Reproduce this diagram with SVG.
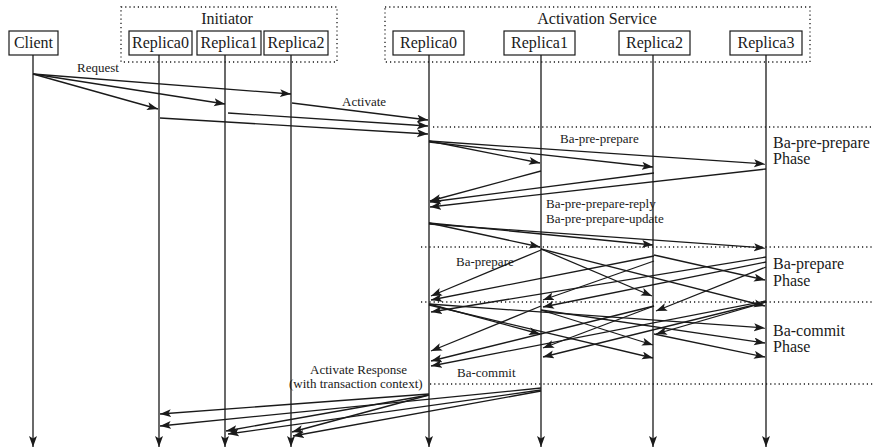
<svg xmlns="http://www.w3.org/2000/svg" width="874" height="448" viewBox="0 0 874 448">
<style>
.bg{fill:#fff}
.box{fill:#fff;stroke:#1a1a1a;stroke-width:1.2}
.grp{fill:none;stroke:#1a1a1a;stroke-width:1.3;stroke-dasharray:1.2 3}
.sep{stroke:#1a1a1a;stroke-width:1.3;stroke-dasharray:1.2 3}
.life{stroke:#1a1a1a;stroke-width:1.3;marker-end:url(#ah)}
.msg{stroke:#1a1a1a;stroke-width:1.3;fill:none;marker-end:url(#ah)}
text{font-family:"Liberation Serif","Times New Roman",serif;fill:#1a1a1a}
.nl{font-size:16px;text-anchor:middle}
.ph{font-size:16px}
.ml{font-size:13px}
</style>
<defs>
<marker id="ah" markerUnits="userSpaceOnUse" markerWidth="12" markerHeight="9" refX="11" refY="4" orient="auto">
<path d="M0,0 L11,4 L0,8 L2.5,4 z" fill="#1a1a1a"/>
</marker>
</defs>
<rect class="bg" x="0" y="0" width="874" height="448"/>

<g id="initiator">
<rect class="grp" x="121" y="7" width="216" height="55"/>
<text class="nl" x="227" y="24">Initiator</text>
</g>
<g id="activation-service">
<rect class="grp" x="385" y="7" width="425" height="55"/>
<text class="nl" x="597" y="24">Activation Service</text>
</g>

<g id="client">
<line class="life" x1="33" y1="55" x2="33" y2="447"/>
<rect class="box" x="9" y="31" width="49" height="24"/>
<text class="nl" x="33.5" y="48">Client</text>
</g>
<g id="init-replica0">
<line class="life" x1="159" y1="55" x2="159" y2="447"/>
<rect class="box" x="129" y="31" width="63" height="24"/>
<text class="nl" x="160.5" y="48">Replica0</text>
</g>
<g id="init-replica1">
<line class="life" x1="225" y1="55" x2="225" y2="447"/>
<rect class="box" x="197" y="31" width="64" height="24"/>
<text class="nl" x="229" y="48">Replica1</text>
</g>
<g id="init-replica2">
<line class="life" x1="291" y1="55" x2="291" y2="447"/>
<rect class="box" x="264" y="31" width="64" height="24"/>
<text class="nl" x="296" y="48">Replica2</text>
</g>
<g id="act-replica0">
<line class="life" x1="429" y1="55" x2="429" y2="447"/>
<rect class="box" x="393" y="31" width="71" height="24"/>
<text class="nl" x="428.5" y="48">Replica0</text>
</g>
<g id="act-replica1">
<line class="life" x1="541" y1="55" x2="541" y2="447"/>
<rect class="box" x="504" y="31" width="71" height="24"/>
<text class="nl" x="539.5" y="48">Replica1</text>
</g>
<g id="act-replica2">
<line class="life" x1="653" y1="55" x2="653" y2="447"/>
<rect class="box" x="619" y="31" width="71" height="24"/>
<text class="nl" x="654.5" y="48">Replica2</text>
</g>
<g id="act-replica3">
<line class="life" x1="766" y1="55" x2="766" y2="447"/>
<rect class="box" x="730" y="31" width="72" height="24"/>
<text class="nl" x="766" y="48">Replica3</text>
</g>

<g id="phases">
<line class="sep" x1="433" y1="127" x2="874" y2="127"/>
<line class="sep" x1="421" y1="247" x2="874" y2="247"/>
<line class="sep" x1="421" y1="302" x2="874" y2="302"/>
<line class="sep" x1="430" y1="384" x2="874" y2="384"/>
<text class="ph" x="773" y="148">Ba-pre-prepare</text>
<text class="ph" x="773" y="164">Phase</text>
<text class="ph" x="773" y="269">Ba-prepare</text>
<text class="ph" x="773" y="286">Phase</text>
<text class="ph" x="773" y="336">Ba-commit</text>
<text class="ph" x="773" y="352">Phase</text>
</g>

<g id="connectors">
<line class="msg" x1="33" y1="74" x2="291" y2="94"/>
<line class="msg" x1="33" y1="74" x2="225" y2="104"/>
<line class="msg" x1="33" y1="74" x2="158" y2="109"/>
<line class="msg" x1="292" y1="103" x2="428" y2="120"/>
<line class="msg" x1="228" y1="113" x2="428" y2="126"/>
<line class="msg" x1="160" y1="118" x2="428" y2="134"/>
<line class="msg" x1="429" y1="141" x2="540" y2="163"/>
<line class="msg" x1="429" y1="142" x2="653" y2="167"/>
<line class="msg" x1="429" y1="141" x2="765" y2="164"/>
<line class="msg" x1="541" y1="171" x2="430" y2="201"/>
<line class="msg" x1="654" y1="173" x2="430" y2="202"/>
<line class="msg" x1="766" y1="169" x2="430" y2="207"/>
<line class="msg" x1="429" y1="223" x2="540" y2="247"/>
<line class="msg" x1="429" y1="223" x2="653" y2="245"/>
<line class="msg" x1="429" y1="224" x2="765" y2="248"/>
<line class="msg" x1="541" y1="250" x2="431" y2="296"/>
<line class="msg" x1="541" y1="249" x2="652" y2="296"/>
<line class="msg" x1="541" y1="249" x2="765" y2="306"/>
<line class="msg" x1="654" y1="256" x2="431" y2="300"/>
<line class="msg" x1="654" y1="261" x2="543" y2="300"/>
<line class="msg" x1="654" y1="255" x2="765" y2="280"/>
<line class="msg" x1="766" y1="257" x2="431" y2="312"/>
<line class="msg" x1="766" y1="262" x2="543" y2="307"/>
<line class="msg" x1="766" y1="267" x2="656" y2="311"/>
<line class="msg" x1="429" y1="304" x2="540" y2="334"/>
<line class="msg" x1="429" y1="305" x2="653" y2="358"/>
<line class="msg" x1="429" y1="304" x2="765" y2="328"/>
<line class="msg" x1="541" y1="306" x2="431" y2="351"/>
<line class="msg" x1="541" y1="310" x2="653" y2="345"/>
<line class="msg" x1="541" y1="310" x2="765" y2="343"/>
<line class="msg" x1="654" y1="306" x2="431" y2="361"/>
<line class="msg" x1="654" y1="306" x2="543" y2="348"/>
<line class="msg" x1="654" y1="334" x2="765" y2="357"/>
<line class="msg" x1="766" y1="301" x2="431" y2="366"/>
<line class="msg" x1="766" y1="302" x2="543" y2="357"/>
<line class="msg" x1="766" y1="302" x2="656" y2="334"/>
<line class="msg" x1="429" y1="394" x2="160" y2="414"/>
<line class="msg" x1="429" y1="395" x2="226" y2="431"/>
<line class="msg" x1="429" y1="395" x2="292" y2="432"/>
<line class="msg" x1="541" y1="388" x2="160" y2="426"/>
<line class="msg" x1="541" y1="390" x2="228" y2="434"/>
<line class="msg" x1="541" y1="391" x2="293" y2="436"/>
</g>

<g id="labels">
<text class="ml" x="77" y="72">Request</text>
<text class="ml" x="342" y="106">Activate</text>
<text class="ml" x="560" y="143">Ba-pre-prepare</text>
<text class="ml" x="546" y="208">Ba-pre-prepare-reply</text>
<text class="ml" x="546" y="223">Ba-pre-prepare-update</text>
<text class="ml" x="456" y="266">Ba-prepare</text>
<text class="ml" x="310" y="374">Activate Response</text>
<text class="ml" x="289" y="388">(with transaction context)</text>
<text class="ml" x="457" y="377">Ba-commit</text>
</g>
</svg>
